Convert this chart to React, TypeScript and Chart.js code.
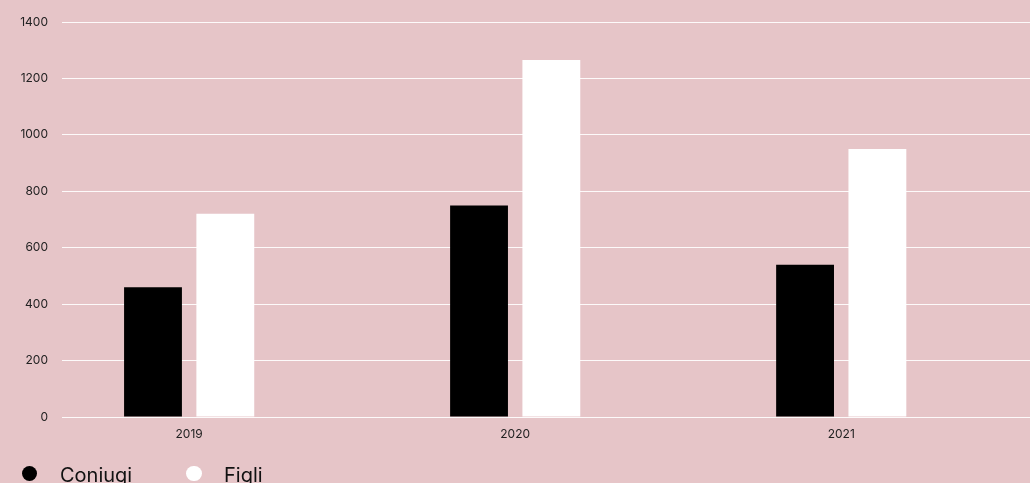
import React, { useEffect, useRef } from "react";
import { Chart, registerables } from "chart.js";

Chart.register(...registerables);

const years = ["2019", "2020", "2021"];
const coniugi = [460, 750, 540];
const figli = [720, 1265, 950];
const yTicks = [0, 200, 400, 600, 800, 1000, 1200, 1400];
const seriesNames = ["Coniugi", "Figli"];
const seriesColors = ["#000000", "#ffffff"];

const BG = "#e6c5c8";
const FONT = "Inter, 'Noto Sans', sans-serif";

export default function App() {
  const ref = useRef<HTMLCanvasElement | null>(null);

  useEffect(() => {
    document.body.style.margin = "0";
    const canvas = ref.current;
    if (!canvas) return;
    const chart = new Chart(canvas, {
      type: "bar",
      data: {
        datasets: [
          {
            label: seriesNames[0],
            data: coniugi.map((v, i) => ({ x: i, y: v })),
            backgroundColor: seriesColors[0],
            borderWidth: 0,
          },
          {
            label: seriesNames[1],
            data: figli.map((v, i) => ({ x: i, y: v })),
            backgroundColor: seriesColors[1],
            borderWidth: 0,
          },
        ],
      },
      options: {
        animation: false,
        responsive: true,
        maintainAspectRatio: false,
        layout: { padding: { top: 22, left: 0, right: 0, bottom: 36 } },
        datasets: {
          bar: { categoryPercentage: 0.4436, barPercentage: 0.8 },
        },
        plugins: {
          legend: { display: false },
          tooltip: { enabled: false },
        },
        scales: {
          x: {
            type: "linear",
            offset: false,
            min: -0.39,
            max: 2.579,
            grid: { display: false, drawTicks: false },
            border: { display: false },
            afterBuildTicks: (s: any) => {
              s.ticks = years.map((_, i) => ({ value: i }));
            },
            afterFit: (s: any) => {
              s.height = 30;
            },
            ticks: {
              stepSize: 1,
              includeBounds: false,
              padding: 10,
              color: "#222222",
              font: { family: FONT, size: 12 },
              callback: (v: any) => years[v as number] ?? "",
            },
          },
          y: {
            min: 0,
            max: 1400,
            afterBuildTicks: (s: any) => {
              s.ticks = yTicks.map((v) => ({ value: v }));
            },
            afterFit: (s: any) => {
              s.width = 62;
            },
            grid: {
              color: "rgba(255,255,255,0.9)",
              lineWidth: 1,
              drawTicks: false,
            },
            border: { display: false },
            ticks: {
              padding: 14,
              color: "#222222",
              font: { family: FONT, size: 12 },
              callback: (v: any) => String(v),
            },
          },
        },
      },
    });
    return () => chart.destroy();
  }, []);

  const legendItem = (name: string, color: string, circleCx: number, textX: number) => (
    <React.Fragment key={name}>
      <div
        style={{
          position: "absolute",
          left: circleCx - 7.75,
          top: 473.5 - 7.75,
          width: 15.5,
          height: 15.5,
          borderRadius: "50%",
          background: color,
        }}
      />
      <div
        style={{
          position: "absolute",
          left: textX,
          top: 463,
          fontFamily: FONT,
          fontSize: 20,
          lineHeight: "24px",
          color: "#111111",
          whiteSpace: "nowrap",
        }}
      >
        {name}
      </div>
    </React.Fragment>
  );

  return (
    <div
      style={{
        position: "absolute",
        left: 0,
        top: 0,
        width: 1030,
        height: 483,
        background: BG,
        overflow: "hidden",
      }}
    >
      <canvas ref={ref} />
      {legendItem(seriesNames[0], seriesColors[0], 29.7, 60)}
      {legendItem(seriesNames[1], seriesColors[1], 194, 224)}
    </div>
  );
}
